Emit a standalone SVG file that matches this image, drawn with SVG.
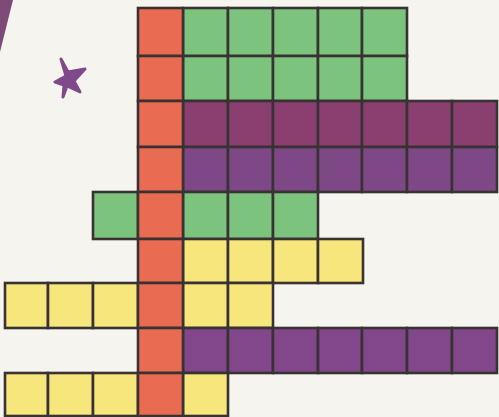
<svg xmlns="http://www.w3.org/2000/svg" width="499" height="417" viewBox="0 0 499 417">
<style>
rect{stroke:#383233;stroke-width:2.6}
.r{fill:#e86b52}.g{fill:#7cc37e}.y{fill:#f7e67c}.p1{fill:#8b3f70}.p2{fill:#7e4886}.p3{fill:#82478a}
</style>
<defs>
<rect id="c" width="45" height="45"/>
</defs>
<path d="M0 0H499V417H0Z" fill="#f6f4ee" style="stroke:none"/>
<path d="M0 0H13L0 52Z" fill="#7e4a78"/>
<path d="M61 59L68 72L85 69L74 81L80 92L67 86L63 97L64 85L55 82L66 76Z" fill="#80498a" stroke="#80498a" stroke-width="3" stroke-linejoin="round"/>
<g id="row1">
<rect class="g" x="183" y="8" width="45" height="48"/><rect class="g" x="228" y="8" width="45" height="48"/><rect class="g" x="273" y="8" width="45" height="48"/><rect class="g" x="318" y="8" width="44" height="48"/><rect class="g" x="362" y="8" width="45" height="48"/>
</g>
<g id="row2">
<rect class="g" x="183" y="56" width="45" height="45"/><rect class="g" x="228" y="56" width="45" height="45"/><rect class="g" x="273" y="56" width="45" height="45"/><rect class="g" x="318" y="56" width="44" height="45"/><rect class="g" x="362" y="56" width="45" height="45"/>
</g>
<g id="row3">
<rect class="p1" x="183" y="101" width="45" height="46"/><rect class="p1" x="228" y="101" width="45" height="46"/><rect class="p1" x="273" y="101" width="45" height="46"/><rect class="p1" x="318" y="101" width="44" height="46"/><rect class="p1" x="362" y="101" width="45" height="46"/><rect class="p1" x="407" y="101" width="45" height="46"/><rect class="p1" x="452" y="101" width="45" height="46"/>
</g>
<g id="row4">
<rect class="p2" x="183" y="147" width="45" height="45"/><rect class="p2" x="228" y="147" width="45" height="45"/><rect class="p2" x="273" y="147" width="45" height="45"/><rect class="p2" x="318" y="147" width="44" height="45"/><rect class="p2" x="362" y="147" width="45" height="45"/><rect class="p2" x="407" y="147" width="45" height="45"/><rect class="p2" x="452" y="147" width="45" height="45"/>
</g>
<g id="row5">
<rect class="g" x="93" y="192" width="45" height="47"/><rect class="g" x="183" y="192" width="45" height="47"/><rect class="g" x="228" y="192" width="45" height="47"/><rect class="g" x="273" y="192" width="45" height="47"/>
</g>
<g id="row6">
<rect class="y" x="183" y="239" width="45" height="44"/><rect class="y" x="228" y="239" width="45" height="44"/><rect class="y" x="273" y="239" width="45" height="44"/><rect class="y" x="318" y="239" width="45" height="44"/>
</g>
<g id="row7">
<rect class="y" x="5" y="283" width="43" height="45"/><rect class="y" x="48" y="283" width="45" height="45"/><rect class="y" x="93" y="283" width="45" height="45"/><rect class="y" x="183" y="283" width="45" height="45"/><rect class="y" x="228" y="283" width="45" height="45"/>
</g>
<g id="row8">
<rect class="p3" x="183" y="328" width="45" height="45"/><rect class="p3" x="228" y="328" width="45" height="45"/><rect class="p3" x="273" y="328" width="45" height="45"/><rect class="p3" x="318" y="328" width="44" height="45"/><rect class="p3" x="362" y="328" width="45" height="45"/><rect class="p3" x="407" y="328" width="45" height="45"/><rect class="p3" x="452" y="328" width="45" height="45"/>
</g>
<g id="row9">
<rect class="y" x="5" y="373" width="43" height="43"/><rect class="y" x="48" y="373" width="45" height="43"/><rect class="y" x="93" y="373" width="45" height="43"/><rect class="y" x="183" y="373" width="45" height="43"/>
</g>
<g id="red-column">
<rect class="r" x="138" y="8" width="45" height="48"/><rect class="r" x="138" y="56" width="45" height="45"/><rect class="r" x="138" y="101" width="45" height="46"/><rect class="r" x="138" y="147" width="45" height="45"/><rect class="r" x="138" y="192" width="45" height="47"/><rect class="r" x="138" y="239" width="45" height="44"/><rect class="r" x="138" y="283" width="45" height="45"/><rect class="r" x="138" y="328" width="45" height="45"/><rect class="r" x="138" y="373" width="45" height="43"/>
</g>
</svg>
